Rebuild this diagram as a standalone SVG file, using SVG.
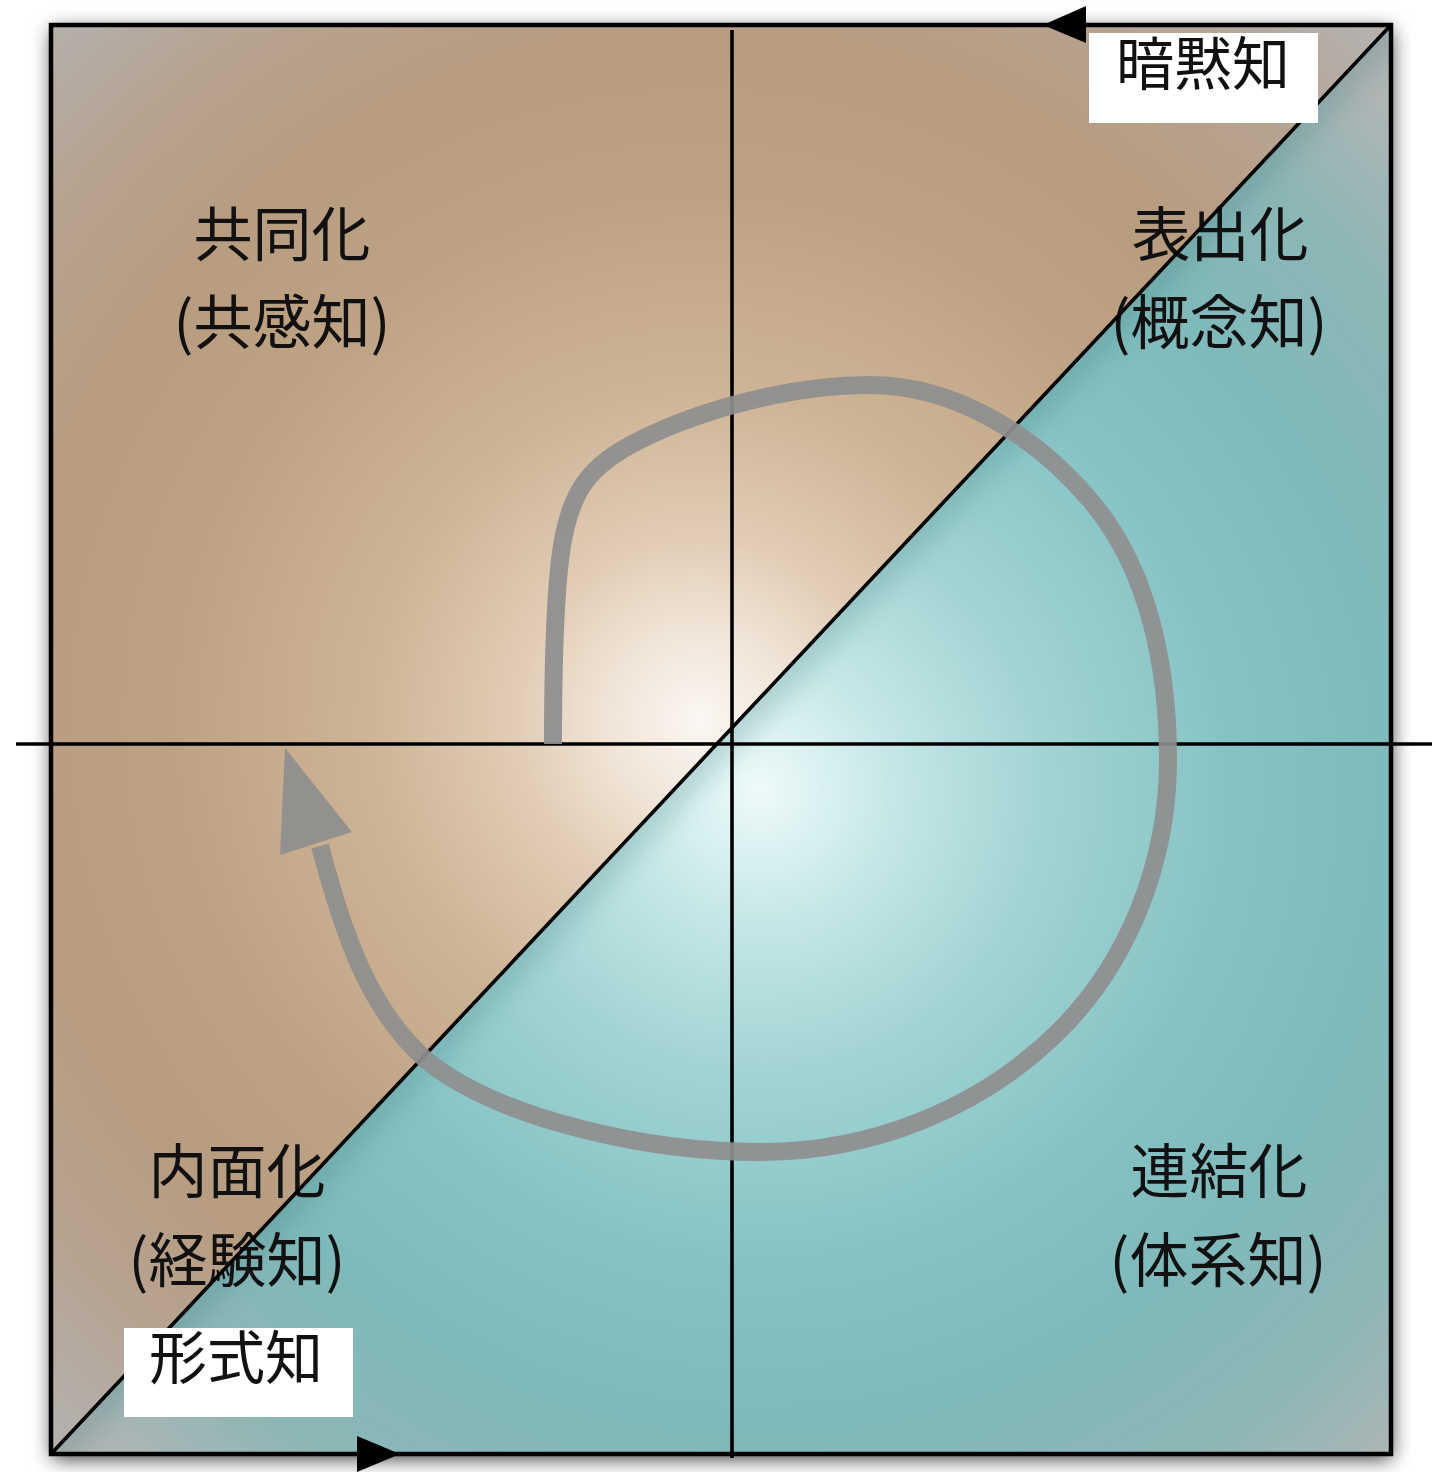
<svg xmlns="http://www.w3.org/2000/svg" width="1432" height="1472" viewBox="0 0 1432 1472">
<style>
.lbl{font-family:"Noto Sans CJK JP","Noto Sans CJK SC",sans-serif;font-size:59px;fill:#111;text-anchor:middle}
.box{fill:#fff}
.boxt{font-family:"Noto Sans CJK JP","Noto Sans CJK SC",sans-serif;font-size:58px;fill:#111;text-anchor:middle}
.axis{stroke:#000;stroke-width:3.6;fill:none}
.cyc{stroke:#8e8e8e;stroke-width:18;fill:none;stroke-linecap:butt;opacity:0.92}
</style>
<defs>
<radialGradient id="tan" gradientUnits="userSpaceOnUse" cx="700" cy="720" r="950">
<stop offset="0" stop-color="#fbf7f3"/>
<stop offset="0.1" stop-color="#f0e4d6"/>
<stop offset="0.2" stop-color="#e0cbb4"/>
<stop offset="0.35" stop-color="#ceb496"/>
<stop offset="0.55" stop-color="#bea283"/>
<stop offset="0.72" stop-color="#b89c80"/>
<stop offset="0.86" stop-color="#b6a391"/>
<stop offset="1" stop-color="#b4b0ac"/>
</radialGradient>
<radialGradient id="teal" gradientUnits="userSpaceOnUse" cx="760" cy="790" r="930">
<stop offset="0" stop-color="#eefafa"/>
<stop offset="0.15" stop-color="#c4e6e6"/>
<stop offset="0.3" stop-color="#a3d4d4"/>
<stop offset="0.5" stop-color="#88c3c3"/>
<stop offset="0.68" stop-color="#7fb9b9"/>
<stop offset="0.85" stop-color="#8db6b6"/>
<stop offset="1" stop-color="#b0b5b5"/>
</radialGradient>
<filter id="shadow" x="-10%" y="-10%" width="120%" height="120%">
<feDropShadow dx="1" dy="5" stdDeviation="10" flood-color="#000" flood-opacity="0.75"/>
</filter>
<filter id="blur" x="-10%" y="-10%" width="120%" height="120%">
<feGaussianBlur stdDeviation="12"/>
</filter>
<clipPath id="tealClip"><polygon points="51,1454 1391,25 1391,1454"/></clipPath>
</defs>

<g id="background">
<rect x="51" y="25" width="1340" height="1429" fill="#b8a898" filter="url(#shadow)"/>
<polygon points="51,25 1391,25 51,1454" fill="url(#tan)"/>
<polygon points="51,1454 1391,25 1391,1454" fill="url(#teal)"/>
<g clip-path="url(#tealClip)">
<line x1="51" y1="1454" x2="1391" y2="25" stroke="#2f6f70" stroke-width="34" opacity="0.22" filter="url(#blur)"/>
</g>
</g>

<g id="labels">
<g id="socialization"><text class="lbl" x="282" y="256">共同化</text><text class="lbl" x="282" y="344">(共感知)</text></g>
<g id="externalization"><text class="lbl" x="1220" y="256">表出化</text><text class="lbl" x="1219" y="344">(概念知)</text></g>
<g id="internalization"><text class="lbl" x="237" y="1193">内面化</text><text class="lbl" x="237" y="1282">(経験知)</text></g>
<g id="combination"><text class="lbl" x="1219" y="1193">連結化</text><text class="lbl" x="1218" y="1282">(体系知)</text></g>
</g>

<g id="connectors">
<rect x="51" y="25" width="1340" height="1429" fill="none" stroke="#000" stroke-width="4.5"/>
<line class="axis" x1="732" y1="30" x2="732" y2="1458"/>
<line class="axis" x1="16" y1="744" x2="1432" y2="744"/>
<line class="axis" x1="51" y1="1454" x2="1391" y2="25" stroke-width="4.2"/>
<polygon points="1043,25 1086,6 1086,43" fill="#000"/>
<polygon points="400,1454 357,1436 357,1472" fill="#000"/>
<path class="cyc" d="M553,744 C553,700 553,620 560,560 C568,490 590,465 640,440 C700,410 790,385 870,385 C950,385 1030,430 1090,500 C1150,570 1168,670 1168,760 C1168,860 1130,960 1060,1030 C980,1110 870,1152 760,1152 C650,1152 500,1120 426,1060 C370,1010 345,940 320,846"/>
<polygon points="285,748 352,832 280,855" fill="#8e8e8e" opacity="0.92"/>
</g>

<g id="tacit">
<rect class="box" x="1089" y="33" width="229" height="90"/>
<text class="boxt" x="1203" y="85">暗黙知</text>
</g>
<g id="explicit">
<rect class="box" x="124" y="1328" width="229" height="89"/>
<text class="boxt" x="236" y="1379">形式知</text>
</g>
</svg>
